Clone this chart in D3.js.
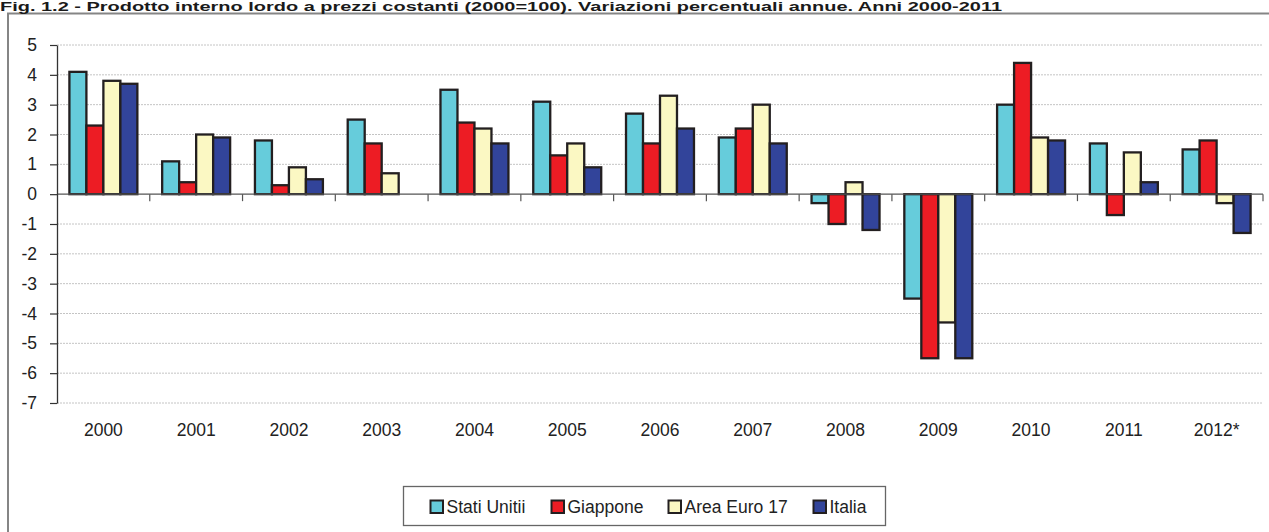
<!DOCTYPE html>
<html>
<head>
<meta charset="utf-8">
<script src="https://cdn.jsdelivr.net/npm/d3@7"></script>
<style>
  html, body { margin: 0; padding: 0; background: #fff; }
  svg { display: block; font-family: "Liberation Sans", Arial, sans-serif; }
</style>
</head>
<body>
<svg id="chart" width="1269" height="532"></svg>
<script>
// Annual GDP growth (%), constant prices
const years = ["2000","2001","2002","2003","2004","2005","2006","2007","2008","2009","2010","2011","2012*"];
const seriesNames = ["Stati Unitii", "Giappone", "Area Euro 17", "Italia"];
const statiUniti = [4.1, 1.1, 1.8, 2.5, 3.5, 3.1, 2.7, 1.9, -0.3, -3.5, 3.0, 1.7, 1.5];
const giappone   = [2.3, 0.4, 0.3, 1.7, 2.4, 1.3, 1.7, 2.2, -1.0, -5.5, 4.4, -0.7, 1.8];
const areaEuro   = [3.8, 2.0, 0.9, 0.7, 2.2, 1.7, 3.3, 3.0, 0.4, -4.3, 1.9, 1.4, -0.3];
const italia     = [3.7, 1.9, 0.5, 0.0, 1.7, 0.9, 2.2, 1.7, -1.2, -5.5, 1.8, 0.4, -1.3];
const yTicks = [5, 4, 3, 2, 1, 0, -1, -2, -3, -4, -5, -6, -7];
const title = "Fig. 1.2 - Prodotto interno lordo a prezzi costanti (2000=100). Variazioni percentuali annue. Anni 2000-2011";

const colors = ["#66ccdb", "#ed1c24", "#fbf8c3", "#32449a"];
const valuesBySeries = [statiUniti, giappone, areaEuro, italia];

const svg = d3.select("#chart");
const plot = { left: 57, right: 1263, top: 45, bottom: 403 };

// Outer frame
svg.append("rect")
  .attr("x", 8).attr("y", 13.5)
  .attr("width", 1300).attr("height", 600)
  .attr("fill", "none").attr("stroke", "#858585").attr("stroke-width", 2);

// Title
svg.append("text")
  .attr("x", 0).attr("y", 11)
  .attr("font-size", 13.5).attr("font-weight", "bold").attr("fill", "#1a1a1a")
  .attr("textLength", 1002).attr("lengthAdjust", "spacingAndGlyphs")
  .text(title);

const x0 = d3.scaleBand().domain(years).range([plot.left, plot.right]).paddingInner(0).paddingOuter(0);
const x1 = d3.scaleBand().domain(seriesNames).range([0, x0.bandwidth()]).paddingInner(0).paddingOuter(0.73);
const y = d3.scaleLinear().domain([-7, 5]).range([plot.bottom, plot.top]);

// Gridlines
svg.append("g").selectAll("line")
  .data(yTicks.filter(t => t !== 0))
  .join("line")
  .attr("x1", plot.left).attr("x2", plot.right)
  .attr("y1", d => y(d)).attr("y2", d => y(d))
  .attr("stroke", "#c4c4c4").attr("stroke-width", 1).attr("stroke-dasharray", "2,1");

// Bars
const rows = years.map((yr, i) => ({ year: yr, vals: seriesNames.map((s, j) => ({ s, j, v: valuesBySeries[j][i] })) }));
svg.append("g").selectAll("g")
  .data(rows)
  .join("g")
  .attr("transform", d => `translate(${x0(d.year)},0)`)
  .selectAll("rect")
  .data(d => d.vals.filter(e => e.v !== 0))
  .join("rect")
  .attr("x", d => x1(d.s))
  .attr("width", x1.bandwidth())
  .attr("y", d => y(Math.max(0, d.v)))
  .attr("height", d => Math.abs(y(d.v) - y(0)))
  .attr("fill", d => colors[d.j])
  .attr("stroke", "#231f20").attr("stroke-width", 2.3);

// Zero line with category separators
svg.append("line")
  .attr("x1", plot.left).attr("x2", plot.right)
  .attr("y1", y(0)).attr("y2", y(0))
  .attr("stroke", "#555").attr("stroke-width", 1.2);
svg.append("g").selectAll("line")
  .data(years.map(yr => x0(yr) + x0.bandwidth()))
  .join("line")
  .attr("x1", d => d).attr("x2", d => d)
  .attr("y1", y(0)).attr("y2", y(0) + 7)
  .attr("stroke", "#555").attr("stroke-width", 1.2);

// Y axis (plain hyphen for negatives)
const yAxis = svg.append("g")
  .attr("transform", `translate(${plot.left},0)`)
  .call(d3.axisLeft(y).tickValues(yTicks).tickFormat(d => String(d)).tickSize(7).tickPadding(13).tickSizeOuter(0));
yAxis.select(".domain").attr("stroke", "#333").attr("stroke-width", 1.3);
yAxis.selectAll(".tick line").attr("stroke", "#333").attr("stroke-width", 1.2);
yAxis.selectAll(".tick text")
  .attr("font-size", 17.5).attr("fill", "#222").attr("font-family", "Liberation Sans, Arial, sans-serif");

// Category labels
const xAxis = svg.append("g")
  .attr("transform", `translate(0,${plot.bottom})`)
  .call(d3.axisBottom(x0).tickSize(0).tickPadding(21));
xAxis.select(".domain").remove();
xAxis.selectAll(".tick text")
  .attr("font-size", 17.5).attr("fill", "#222").attr("font-family", "Liberation Sans, Arial, sans-serif");

// Legend
const legend = svg.append("g");
legend.append("rect")
  .attr("x", 403.5).attr("y", 486.5).attr("width", 482).attr("height", 39)
  .attr("fill", "#fff").attr("stroke", "#666").attr("stroke-width", 1.3);
const legendX = [430, 551, 668, 813];
const items = legend.selectAll("g.item")
  .data(seriesNames)
  .join("g").attr("class", "item")
  .attr("transform", (d, i) => `translate(${legendX[i]},0)`);
items.append("rect")
  .attr("x", 0.5).attr("y", 500.5).attr("width", 12.5).attr("height", 12.5)
  .attr("fill", (d, i) => colors[i]).attr("stroke", "#231f20").attr("stroke-width", 2);
items.append("text")
  .attr("x", 16.5).attr("y", 513)
  .attr("font-size", 17.5).attr("fill", "#222")
  .text(d => d);
</script>
</body>
</html>
